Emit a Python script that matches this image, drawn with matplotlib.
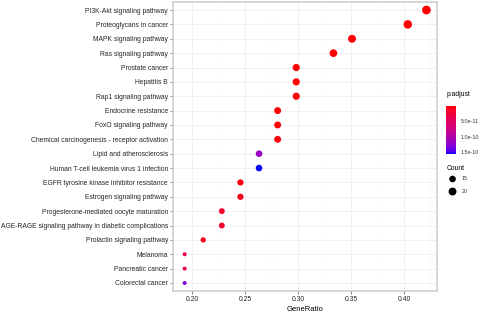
import numpy as np
import matplotlib
matplotlib.use("Agg")
import matplotlib.pyplot as plt
from matplotlib.colors import LinearSegmentedColormap, Normalize
from matplotlib.cm import ScalarMappable

pathways = [
    "PI3K-Akt signaling pathway",
    "Proteoglycans in cancer",
    "MAPK signaling pathway",
    "Ras signaling pathway",
    "Prostate cancer",
    "Hepatitis B",
    "Rap1 signaling pathway",
    "Endocrine resistance",
    "FoxO signaling pathway",
    "Chemical carcinogenesis - receptor activation",
    "Lipid and atherosclerosis",
    "Human T-cell leukemia virus 1 infection",
    "EGFR tyrosine kinase inhibitor resistance",
    "Estrogen signaling pathway",
    "Progesterone-mediated oocyte maturation",
    "AGE-RAGE signaling pathway in diabetic complications",
    "Prolactin signaling pathway",
    "Melanoma",
    "Pancreatic cancer",
    "Colorectal cancer",
]
counts = [24, 23, 20, 19, 17, 17, 17, 16, 16, 16, 15, 15, 14, 14, 13, 13, 12, 11, 11, 11]
total_genes = 57
gene_ratio = [c / total_genes for c in counts]
p_adjust = [2.1e-20, 1.3e-18, 4.5e-14, 6.2e-13, 3.1e-14, 8.0e-14, 2.4e-12,
            7.3e-13, 1.1e-12, 3.6e-12, 1.18e-10, 1.55e-10, 5.2e-12, 7.9e-12,
            1.4e-11, 1.6e-11, 9.0e-12, 4.1e-11, 4.4e-11, 1.28e-10]
cbar_ticks = [5.0e-11, 1.0e-10, 1.5e-10]
cbar_labels = ["5.0e-11", "1.0e-10", "1.5e-10"]
legend_counts = [15, 20]


# red -> blue gradient interpolated in CIELAB, like ggplot's scale_colour_gradient
def _to_lab(rgb):
    c = np.where(rgb <= 0.04045, rgb / 12.92, ((rgb + 0.055) / 1.055) ** 2.4)
    m = np.array([[0.4124, 0.3576, 0.1805],
                  [0.2126, 0.7152, 0.0722],
                  [0.0193, 0.1192, 0.9505]])
    xyz = m @ c / np.array([0.95047, 1.0, 1.08883])
    f = np.where(xyz > 0.008856, np.cbrt(xyz), 7.787 * xyz + 16 / 116)
    return np.array([116 * f[1] - 16, 500 * (f[0] - f[1]), 200 * (f[1] - f[2])])


def _from_lab(lab):
    fy = (lab[0] + 16) / 116
    f = np.array([fy + lab[1] / 500, fy, fy - lab[2] / 200])
    xyz = np.where(f ** 3 > 0.008856, f ** 3, (f - 16 / 116) / 7.787)
    xyz = xyz * np.array([0.95047, 1.0, 1.08883])
    mi = np.array([[3.2406, -1.5372, -0.4986],
                   [-0.9689, 1.8758, 0.0415],
                   [0.0557, -0.2040, 1.0570]])
    c = mi @ xyz
    c = np.where(c <= 0.0031308, 12.92 * c, 1.055 * np.clip(c, 0, None) ** (1 / 2.4) - 0.055)
    return np.clip(c, 0, 1)


lo, hi = _to_lab(np.array([1.0, 0, 0])), _to_lab(np.array([0, 0, 1.0]))
cols = [_from_lab(lo + (hi - lo) * t) for t in np.linspace(0, 1, 64)]
cmap = LinearSegmentedColormap.from_list("rb", cols)
norm = Normalize(vmin=min(p_adjust), vmax=max(p_adjust))


def dot_size(c):
    # diameter in px, area-like scaling
    d = 4 + 4.7 * np.sqrt((np.asarray(c, float) - min(counts)) / (max(counts) - min(counts)))
    return (d * 0.72) ** 2


fs = 4.87
fig = plt.figure(figsize=(4.84, 3.14), dpi=100)
ax = fig.add_axes([0.357, 0.0732, 0.546, 0.9204])

y = np.arange(len(pathways))[::-1]
ax.scatter(gene_ratio, y, s=dot_size(counts), c=p_adjust, cmap=cmap, norm=norm,
           linewidths=0, zorder=3)

ax.set_xlim(0.1818, 0.4311)
ax.set_ylim(-0.56, len(pathways) - 1 + 0.56)
ax.set_yticks(y)
ax.set_yticklabels(pathways, fontsize=fs, color="#262626", family="Liberation Sans")
ax.set_xticks([0.20, 0.25, 0.30, 0.35, 0.40])
ax.set_xticklabels(["0.20", "0.25", "0.30", "0.35", "0.40"], fontsize=fs,
                   color="#262626", family="Liberation Sans")
ax.set_xticks([0.225, 0.275, 0.325, 0.375, 0.425], minor=True)
ax.tick_params(axis="both", which="major", length=2, width=0.5, color="#555555", pad=1.5)
ax.tick_params(axis="x", which="minor", length=0)
ax.grid(which="major", color="#EBEBEB", lw=0.5, zorder=0)
ax.grid(which="minor", axis="x", color="#F4F4F4", lw=0.3, zorder=0)
for sp in ax.spines.values():
    sp.set_color("#CFCFCF")
    sp.set_linewidth(1.2)
ax.set_xlabel("GeneRatio", fontsize=5.5, family="Liberation Sans", labelpad=2)

# colour bar
cax = fig.add_axes([0.9215, 0.5096, 0.0207, 0.1538])
cb = fig.colorbar(ScalarMappable(norm=norm, cmap=cmap), cax=cax)
cb.outline.set_visible(False)
cb.set_ticks(cbar_ticks)
cb.set_ticklabels(cbar_labels)
cax.invert_yaxis()
cax.tick_params(labelsize=3.9, length=2, width=0.4, color="white", pad=1.5)
for t in cax.get_yticklabels():
    t.set_family("Liberation Sans")
    t.set_color("#333333")
fig.text(0.922, 0.688, "p.adjust", fontsize=fs, family="Liberation Sans", va="bottom")

# size legend
fig.text(0.922, 0.452, "Count", fontsize=fs, family="Liberation Sans", va="bottom")
lax = fig.add_axes([0.915, 0.37, 0.04, 0.08])
lax.set_xlim(0, 1)
lax.set_ylim(-0.5, 1.5)
lax.axis("off")
lax.scatter([0.5, 0.5], [1, 0], s=dot_size(legend_counts), color="black", linewidths=0)
for yy, lab in zip([1, 0], legend_counts):
    fig.text(0.954, lax.transData.transform((0, yy))[1] / fig.bbox.height, str(lab),
             fontsize=3.9, family="Liberation Sans", va="center", color="#333333")

fig.savefig("out.png", dpi=100)
